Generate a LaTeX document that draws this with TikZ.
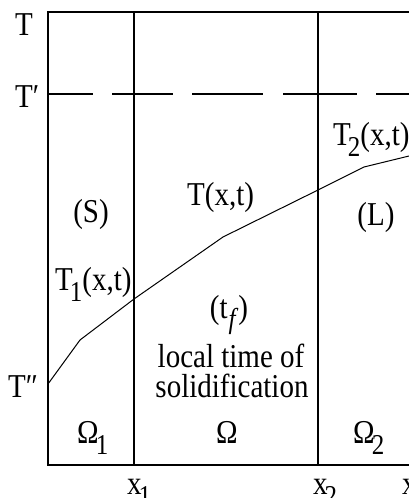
\documentclass[tikz,border=0pt]{standalone}
\usepackage{fontspec}
\setmainfont{Liberation Serif}
\newfontfamily\tms{Liberation Serif}
\usepackage{graphicx}
\newcommand\vs[1]{\scalebox{1}[1.15]{#1}}
\newcommand\sbx[1]{\kern-3pt\raisebox{-10pt}{\fontsize{25}{25}\selectfont #1}}
\newcommand\sbf[1]{\kern1pt\raisebox{-9pt}{\fontsize{25}{25}\selectfont #1}}
\begin{document}
\begin{tikzpicture}[x=1pt,y=-1pt,
  lbl/.style={inner sep=0pt, font=\tms\fontsize{29}{30}\selectfont},
  axis/.style={line width=2pt},
  dashln/.style={line width=2pt},
  curve/.style={line width=1pt}]
\useasboundingbox (0,0) rectangle (409,498);
% frame
\coordinate (TL) at (48,12);
\coordinate (TR) at (409,12);
\coordinate (O) at (48,465);
\coordinate (BR) at (409,465);
\coordinate (X1t) at (134,12);
\coordinate (X1b) at (134,465);
\coordinate (X2t) at (318,12);
\coordinate (X2b) at (318,465);
\draw[axis] (TR) -- (TL) -- (O) -- (BR);
\draw[axis] (X1t) -- (X1b);
\draw[axis] (X2t) -- (X2b);
% dashed T' line
\coordinate (d1a) at (48,94);  \coordinate (d1b) at (93,94);
\coordinate (d2a) at (112,94); \coordinate (d2b) at (173,94);
\coordinate (d3a) at (192,94); \coordinate (d3b) at (263,94);
\coordinate (d4a) at (283,94); \coordinate (d4b) at (357,94);
\coordinate (d5a) at (376,94); \coordinate (d5b) at (409,94);
\draw[dashln] (d1a) -- (d1b);
\draw[dashln] (d2a) -- (d2b);
\draw[dashln] (d3a) -- (d3b);
\draw[dashln] (d4a) -- (d4b);
\draw[dashln] (d5a) -- (d5b);
% temperature curve
\coordinate (c0) at (48,384);
\coordinate (c1) at (80,340);
\coordinate (c2) at (134,299);
\coordinate (c3) at (223,237);
\coordinate (c4) at (318,190);
\coordinate (c5) at (364,167);
\coordinate (c6) at (409,156);
\draw[curve] (c0) -- (c1) -- (c2) -- (c3) -- (c4) -- (c5) -- (c6);
% labels
\node[lbl, anchor=base west] (lT) at (15,35) {\vs{T}};
\node[lbl, anchor=base west] (lTp) at (15,107) {\vs{T′}};
\node[lbl, anchor=base west] (lTpp) at (8,397) {\vs{T″}};
\node[lbl, anchor=base] (lS) at (91,222) {\vs{(S)}};
\node[lbl, anchor=base west] (lT1) at (55,290) {\vs{T\sbx{1}(x,t)}};
\node[lbl, anchor=base west] (lTx) at (187,205) {\vs{T(x,t)}};
\node[lbl, anchor=base west] (lT2) at (333,145) {\vs{T\sbx{2}(x,t)}};
\node[lbl, anchor=base] (lL) at (376,225) {\vs{(L)}};
\node[lbl, anchor=base] (ltf) at (229,318) {\vs{(t\sbf{\textit{f}})}};
\node[lbl, anchor=base] (lloc) at (231,367) {\vs{local time of}};
\node[lbl, anchor=base] (lsol) at (232,397) {\vs{solidification}};
\node[lbl, anchor=base] (lOm) at (227,443) {\vs{Ω}};
\node[lbl, anchor=base west] (lOm1) at (77,443) {\vs{Ω\sbx{1}}};
\node[lbl, anchor=base west] (lOm2) at (353,443) {\vs{Ω\sbx{2}}};
\node[lbl, anchor=base west] (lx1) at (127,494) {\vs{x\sbx{1}}};
\node[lbl, anchor=base west] (lx2) at (313,494) {\vs{x\sbx{2}}};
\node[lbl, anchor=base west] (lx) at (402,494) {\vs{x}};
\end{tikzpicture}
\end{document}
